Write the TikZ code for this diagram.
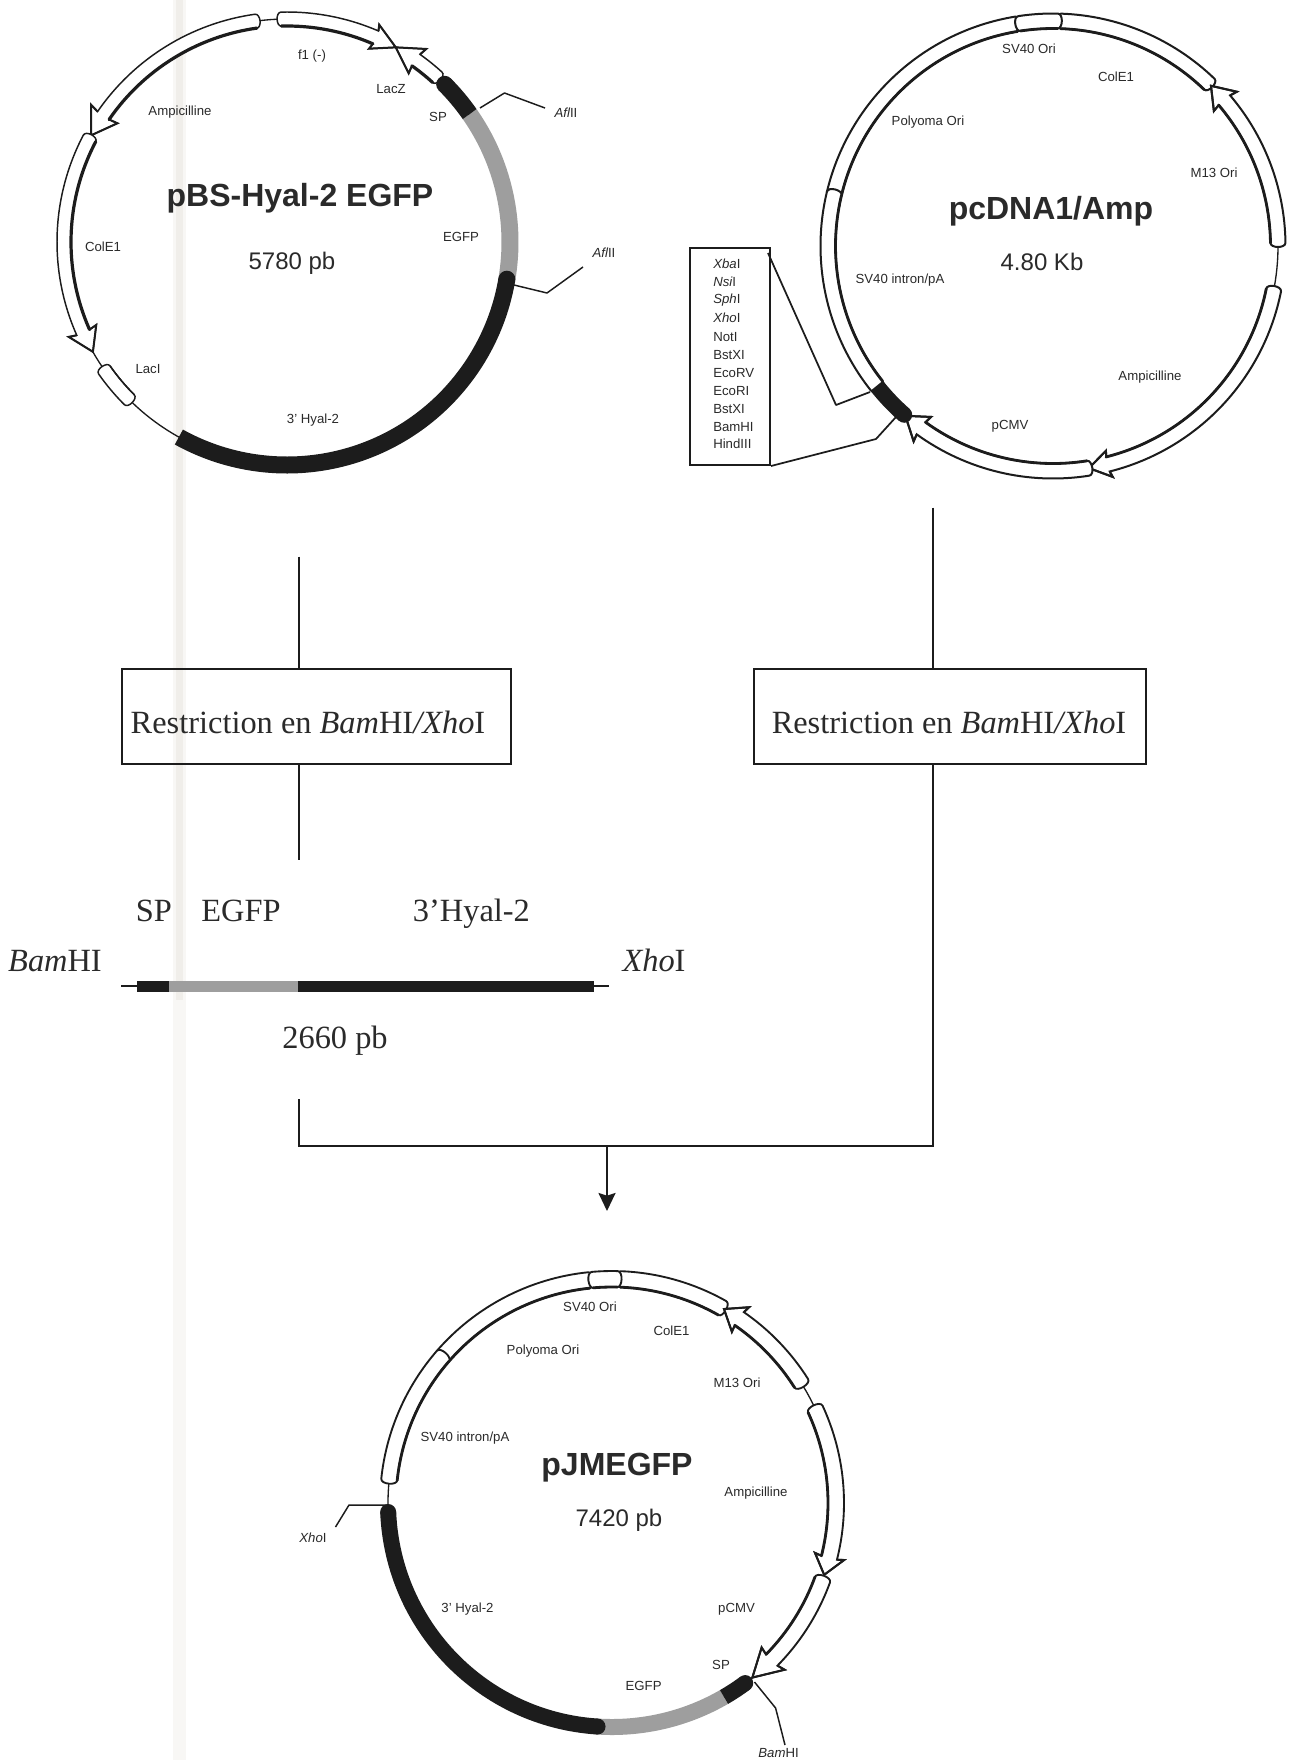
\documentclass[tikz,border=0pt]{standalone}
\usepackage{fontspec}
\setmainfont{Liberation Sans}
\newfontfamily\timesf{Liberation Serif}
\usetikzlibrary{arrows.meta}
\definecolor{ink}{HTML}{1C1C1C}
\definecolor{txt}{HTML}{2A2A2A}
\definecolor{greyband}{HTML}{9E9E9E}
\definecolor{scanA}{HTML}{F8F7F5}
\definecolor{scanB}{HTML}{F0EEEA}
\tikzset{
  lbl/.style={font=\fontsize{9.9}{11}\selectfont,inner sep=0pt,text=txt},
  ttl/.style={font=\fontsize{24}{26}\selectfont\bfseries,inner sep=0pt,text=txt},
  sizelbl/.style={font=\fontsize{18}{20}\selectfont,inner sep=0pt,text=txt},
  serif/.style={font=\fontsize{24.3}{26}\selectfont\timesf,inner sep=0pt,text=txt},
  flow/.style={draw=ink,line width=1.5pt},
  boxnode/.style={draw=ink,line width=1.5pt,inner sep=0pt},
  site/.style={draw=ink,line width=1.1pt,line join=round},
  backbone/.style={draw=ink,line width=1pt},
  outerline/.style={draw=ink,line width=1.1pt,fill=white,line join=miter},
  innerline/.style={draw=ink,line width=2.4pt,line cap=round},
  plainline/.style={draw=ink,line width=1.1pt},
  headline/.style={draw=ink,line width=1.5pt,line join=miter}
}
% ring feature with rounded ends: [inner style]{r}{half width}{a1}{a2}
\newcommand{\ringfeat}[5][innerline]{%
  \pgfmathsetmacro\ro{#2+#3}\pgfmathsetmacro\ri{#2-#3}%
  \pgfmathsetmacro\sg{(#5>#4)?1.4:-1.4}%
  \pgfmathsetmacro\ea{#5+\sg}\pgfmathsetmacro\sa{#4-\sg}%
  \path[outerline] (#4:\ro) arc[start angle=#4,end angle=#5,radius=\ro*0.75pt]
    .. controls (\ea:\ro) and (\ea:\ri) .. (#5:\ri)
    arc[start angle=#5,end angle=#4,radius=\ri*0.75pt]
    .. controls (\sa:\ri) and (\sa:\ro) .. (#4:\ro) -- cycle;
  \draw[#1] (#4:\ri) arc[start angle=#4,end angle=#5,radius=\ri*0.75pt];
}
% arrow feature: {r}{half width}{start}{head base}{tip}{head half width}
\newcommand{\ringarrow}[6]{%
  \pgfmathsetmacro\ro{#1+#2}\pgfmathsetmacro\ri{#1-#2}%
  \pgfmathsetmacro\sg{(#4>#3)?1.4:-1.4}\pgfmathsetmacro\sa{#3-\sg}%
  \pgfmathsetmacro\an{#4+0.07*(#5-#4)}%
  \pgfmathsetmacro\bo{#1+#6}\pgfmathsetmacro\bi{#1-#6}%
  \path[outerline] (#3:\ro) arc[start angle=#3,end angle=\an,radius=\ro*0.75pt]
    -- (#4:\bo) -- (#5:#1) -- (#4:\bi) -- (\an:\ri)
    arc[start angle=\an,end angle=#3,radius=\ri*0.75pt]
    .. controls (\sa:\ri) and (\sa:\ro) .. (#3:\ro) -- cycle;
  \draw[headline] (\an:\ro) -- (#4:\bo) -- (#5:#1) -- (#4:\bi) -- (\an:\ri);
  \draw[innerline] (#3:\ri) arc[start angle=#3,end angle=\an,radius=\ri*0.75pt];
}
% solid band: {r}{half width}{a1}{a2}{colour}
\newcommand{\solidband}[5]{%
  \draw[#5,line width=#2*1.5pt] (#3:#1) arc[start angle=#3,end angle=#4,radius=#1*0.75pt];
}
\newcommand{\bandcap}[4]{\fill[#4] (#3:#1) circle[radius=#2*0.75pt];}
\begin{document}
\begin{tikzpicture}[x=0.75pt,y=-0.75pt]
\useasboundingbox (0,0) rectangle (1297,1760);
\fill[white] (0,0) rectangle (1297,1760);
\fill[scanA] (173,0) rectangle (186,1760);
\fill[scanB] (175.5,0) rectangle (183,1000);

%% ---------- pBS-Hyal-2 EGFP
\begin{scope}[shift={(287,242)},x=0.75pt,y=0.75pt]
  \draw[backbone] (0,0) circle[radius=223*0.75pt];
  \ringarrow{223}{7}{98}{145}{151.4}{16}
  \ringarrow{223}{7}{91.5}{67}{60.8}{13}
  \ringarrow{223}{7}{47.6}{54.2}{60.8}{15}
  \ringarrow{223}{7}{152.3}{203.5}{209.5}{15}
  \ringfeat[plainline]{223}{7}{215}{225}
  \solidband{223}{8.5}{35}{-9.6}{greyband}
  \solidband{223}{8.5}{241}{350.4}{ink}
  \bandcap{223}{8.5}{-9.6}{ink}
  \solidband{223}{8.5}{45}{35}{ink}
  \bandcap{223}{8.5}{45}{ink}
\end{scope}
\coordinate (a1a) at (480,108); \coordinate (a1b) at (504.5,93); \coordinate (a1c) at (545,108);
\coordinate (a2a) at (514,285); \coordinate (a2b) at (547,293); \coordinate (a2c) at (583,267);
\draw[site] (a1a) -- (a1b) -- (a1c);
\draw[site] (a2a) -- (a2b) -- (a2c);
\node[lbl] (f1) at (312,56) {f1 (-)};
\node[lbl] (lacz) at (391,89) {LacZ};
\node[lbl] (sp1) at (438,117) {SP};
\node[lbl] (afl1) at (566,113) {\itshape Afl\upshape II};
\node[lbl] (afl2) at (604,253) {\itshape Afl\upshape II};
\node[lbl] (amp1) at (180,112) {Ampicilline};
\node[ttl] (t1) at (300,198) {pBS-Hyal-2 EGFP};
\node[sizelbl] (s1) at (292,263) {5780 pb};
\node[lbl] (egfp1) at (461,237) {EGFP};
\node[lbl] (cole1a) at (103,247) {ColE1};
\node[lbl] (laci) at (148,369) {LacI};
\node[lbl] (hy1) at (313,420) {3' Hyal-2};

%% ---------- pcDNA1/Amp
\begin{scope}[shift={(1053,246)},x=0.75pt,y=0.75pt,
  outerline/.style={draw=ink,line width=1.5pt,fill=white,line join=miter},
  innerline/.style={draw=ink,line width=2.1pt,line cap=round}]
  \draw[backbone] (0,0) circle[radius=225*0.75pt];
  \ringfeat{225}{7.5}{88}{46}
  \ringfeat{225}{7.5}{99.4}{166.5}
  \ringfeat{225}{7.5}{166.5}{218.4}
  \ringfeat{225}{7.5}{98.6}{88.8}
  \ringarrow{225}{7.5}{0.8}{40}{45.4}{15}
  \ringarrow{225}{7.5}{-11.3}{-75.5}{-80.8}{13.5}
  \ringarrow{225}{7.5}{-81}{-125.5}{-131}{15}
  \solidband{225}{8}{218.4}{228.6}{ink}
  \bandcap{225}{8}{228.6}{ink}
\end{scope}
\node[boxnode,minimum width=80*0.75pt,minimum height=217*0.75pt] (mcs) at (730,356.5) {};
\coordinate (m1) at (768,253); \coordinate (m2) at (836,405); \coordinate (m3) at (870,392);
\coordinate (m4) at (876,439); \coordinate (m5) at (896,417);
\draw[site,line width=1.3pt] (m1) -- (m2) -- (m3);
\draw[site,line width=1.3pt] (mcs.south east) -- (m4) -- (m5);
\node[lbl,anchor=west] (e1) at (713,264) {\itshape Xba\upshape I};
\node[lbl,anchor=west] (e2) at (713,282) {\itshape Nsi\upshape I};
\node[lbl,anchor=west] (e3) at (713,300) {\itshape Sph\upshape I};
\node[lbl,anchor=west] (e4) at (713,318) {\itshape Xho\upshape I};
\node[lbl,anchor=west] (e5) at (713,337) {NotI};
\node[lbl,anchor=west] (e6) at (713,355) {BstXI};
\node[lbl,anchor=west] (e7) at (713,373) {EcoRV};
\node[lbl,anchor=west] (e8) at (713,391) {EcoRI};
\node[lbl,anchor=west] (e9) at (713,409) {BstXI};
\node[lbl,anchor=west] (e10) at (713,427) {BamHI};
\node[lbl,anchor=west] (e11) at (713,444) {HindIII};
\node[lbl] (sv1) at (1029,49) {SV40 Ori};
\node[lbl] (cole1b) at (1116,77) {ColE1};
\node[lbl] (poly1) at (928,122) {Polyoma Ori};
\node[lbl] (m13a) at (1214,173) {M13 Ori};
\node[ttl] (t2) at (1051,211) {pcDNA1/Amp};
\node[sizelbl] (s2) at (1042,262) {4.80 Kb};
\node[lbl] (svi1) at (900,280) {SV40 intron/pA};
\node[lbl] (amp2) at (1150,377) {Ampicilline};
\node[lbl] (cmv1) at (1010,426) {pCMV};

%% ---------- middle part
\node[boxnode,minimum width=389*0.75pt,minimum height=94.5*0.75pt] (boxA) at (316,716.3) {};
\node[serif] (boxAt) at (308,722) {Restriction en \textit{Bam}HI\textit{/Xho}I};
\node[boxnode,minimum width=392*0.75pt,minimum height=94.5*0.75pt] (boxB) at (950,716.3) {};
\node[serif] (boxBt) at (949,722) {Restriction en \textit{Bam}HI\textit{/Xho}I};
\coordinate (ta) at (299,556.5); \coordinate (tb) at (299,860);
\coordinate (ra) at (933,507.7); \coordinate (c1) at (299,1098.5);
\coordinate (cc) at (299,1146); \coordinate (cr) at (933,1146);
\coordinate (jn) at (607,1146); \coordinate (jt) at (607,1211);
\draw[flow] (ta) -- (ta |- boxA.north);
\draw[flow] (ta |- boxA.south) -- (tb);
\draw[flow] (ra) -- (ra |- boxB.north);
\draw[flow] (ra |- boxB.south) -- (cr) -- (cc) -- (c1);
\draw[flow,-{Stealth[length=18*0.75pt,width=17*0.75pt,inset=2pt]}] (jn) -- (jt);
\coordinate (ba) at (121,986); \coordinate (bb) at (609,986);
\draw[ink,line width=1.3pt] (ba) -- (bb);
\fill[ink] (137,980.5) rectangle (170,991.5);
\fill[greyband] (169.4,980.5) rectangle (298,991.5);
\fill[ink] (298,980.5) rectangle (594,991.5);
\node[serif,anchor=base] (sp2) at (154,921.5) {SP};
\node[serif,anchor=base] (eg2) at (241,921.5) {EGFP};
\node[serif,anchor=base] (hy2) at (471.4,921.5) {3’Hyal-2};
\node[serif] (bam2) at (55,961.5) {\textit{Bam}HI};
\node[serif] (xho2) at (654,960) {\textit{Xho}I};
\node[serif] (s25) at (335,1041) {2660 pb};

%% ---------- pJMEGFP
\begin{scope}[shift={(612,1503)},x=0.75pt,y=0.75pt,
  outerline/.style={draw=ink,line width=1.4pt,fill=white,line join=miter},
  innerline/.style={draw=ink,line width=2.1pt,line cap=round}]
  \draw[backbone] (0,0) circle[radius=224*0.75pt];
  \ringfeat{224}{8}{87.8}{60.5}
  \ringfeat{224}{8}{95.9}{139}
  \ringfeat{224}{8}{139}{174}
  \ringfeat{224}{8}{95}{88.6}
  \ringarrow{224}{8}{32.3}{55}{60}{15}
  \ringarrow{224}{8}{24.8}{-13.8}{-18.7}{15}
  \ringarrow{224}{8}{-20}{-44}{-51.2}{16}
  \solidband{224}{8}{-60}{-93.7}{greyband}
  \solidband{224}{8}{-93.7}{-177.7}{ink}
  \bandcap{224}{8}{-93.7}{ink}
  \bandcap{224}{8}{-177.7}{ink}
  \solidband{224}{8}{-53.5}{-60}{ink}
  \bandcap{224}{8}{-53.5}{ink}
\end{scope}
\coordinate (x1) at (387,1505); \coordinate (x2) at (349,1505); \coordinate (x3) at (335.5,1527);
\coordinate (b1) at (754.5,1682); \coordinate (b2) at (775.6,1708); \coordinate (b3) at (785,1745);
\draw[site] (x1) -- (x2) -- (x3);
\draw[site] (b1) -- (b2) -- (b3);
\node[lbl] (sv3) at (590,1307) {SV40 Ori};
\node[lbl] (cole3) at (671.5,1331) {ColE1};
\node[lbl] (poly3) at (543,1351) {Polyoma Ori};
\node[lbl] (m133) at (737,1383) {M13 Ori};
\node[lbl] (svi3) at (465,1438) {SV40 intron/pA};
\node[ttl] (t3) at (617,1468) {pJMEGFP};
\node[sizelbl] (s3) at (619,1520) {7420 pb};
\node[lbl] (amp3) at (756,1493) {Ampicilline};
\node[lbl] (xho3) at (313,1538) {\itshape Xho\upshape I};
\node[lbl] (hy3) at (467.5,1609) {3' Hyal-2};
\node[lbl] (cmv3) at (736.5,1609) {pCMV};
\node[lbl] (sp3) at (721,1665) {SP};
\node[lbl] (eg3) at (643.6,1686) {EGFP};
\node[lbl] (bam3) at (778.6,1753) {\itshape Bam\upshape HI};
\end{tikzpicture}
\end{document}
